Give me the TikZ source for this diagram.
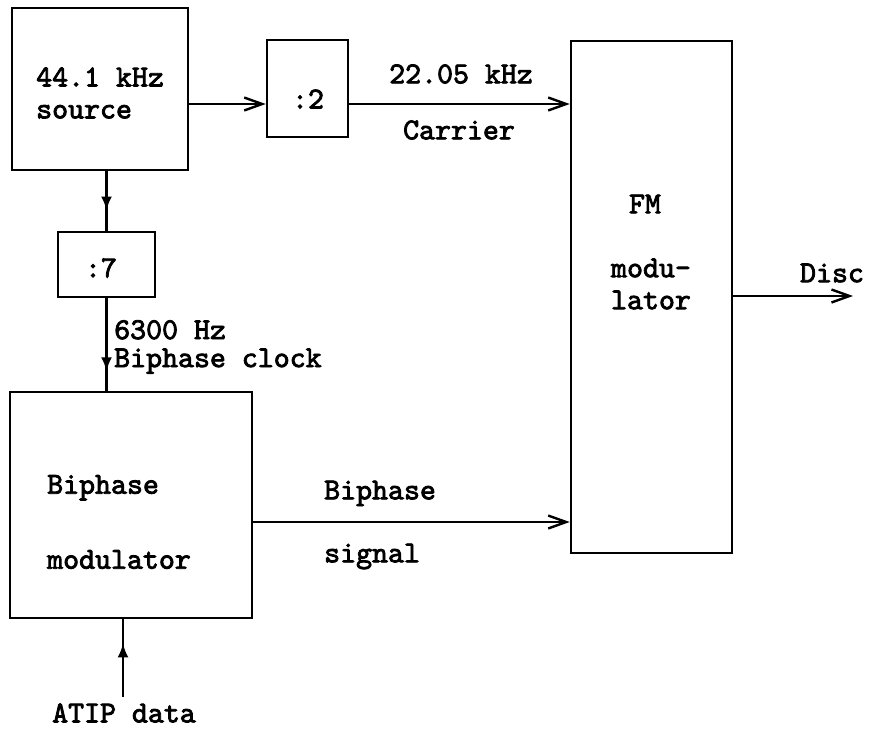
\documentclass[tikz,border=0pt]{standalone}
\usepackage{fontspec}
\newfontfamily\typ{lmmono10-regular.otf}[FakeBold=2.6]
\usetikzlibrary{arrows.meta,decorations.markings}
\newcommand{\lbl}{\typ\fontsize{15.2}{16}\selectfont}
\begin{document}
\begin{tikzpicture}[every node/.style={font=\lbl, inner sep=0pt}, line width=1.2pt, x=0.5pt, y=-0.5pt,
  blk/.style={draw, line width=1.3pt},
  sig/.style={-{Straight Barb[length=9pt,width=6.5pt]}},
  midarrow/.style={postaction={decorate}, decoration={markings, mark=at position #1 with {\arrow{Latex[length=7pt,width=5.5pt]}}}}]
  \useasboundingbox (0,0) rectangle (872,728);
  % boxes, sizes in pt (half the pixel size)
  \node[blk, minimum width=88pt, minimum height=81pt] (src) at (100,89) {};
  \node[blk, minimum width=40.5pt, minimum height=48.5pt] (div2) at (307.5,88.5) {};
  \node[blk, minimum width=80.5pt, minimum height=256pt] (fm) at (651.5,297) {};
  \node[blk, minimum width=48.5pt, minimum height=32.5pt] (div7) at (106.5,264.5) {};
  \node[blk, minimum width=121pt, minimum height=113pt] (bpm) at (131,505) {};
  \node[anchor=west, align=left] (srctxt) at (35,93) {44.1 kHz\\source};
  \node (div2txt) at (308,99) {:2};
  \node (div7txt) at (101,268) {:7};
  \node (fmtxt) at (645,204) {FM};
  \node[align=center] (fmtxt2) at (651,284) {modu-\\lator};
  \node (frq) at (461,74) {22.05 kHz};
  \node (car) at (459,130) {Carrier};
  \node (disc) at (832,273) {Disc};
  \node[anchor=west, align=left] (clk) at (113,347) {6300 Hz\\[-2pt]Biphase clock};
  \node[anchor=west, align=left] (bpmtxt) at (46,522) {Biphase\\[21.5pt]modulator};
  \node[anchor=west, align=left] (bsig) at (323,525) {Biphase\\[15.5pt]signal};
  \node (atip) at (124,713) {ATIP data};
  \coordinate (top) at (0,104); \coordinate (low) at (0,522);
  \coordinate (out) at (853,296); \coordinate (atipend) at (123,697);
  \draw[sig] (src.east |- top) -- (div2.west |- top);
  \draw[sig] (div2.east |- top) -- (fm.west |- top);
  \draw[sig] (bpm.east |- low) -- (fm.west |- low);
  \draw[sig] (fm.east |- out) -- (out);
  \draw[midarrow=0.66] (div7.north |- src.south) -- (div7.north);
  \draw[midarrow=0.79] (div7.south) -- (div7.south |- bpm.north);
  \draw[midarrow=0.69] (atipend) -- (atipend |- bpm.south);
\end{tikzpicture}
\end{document}
